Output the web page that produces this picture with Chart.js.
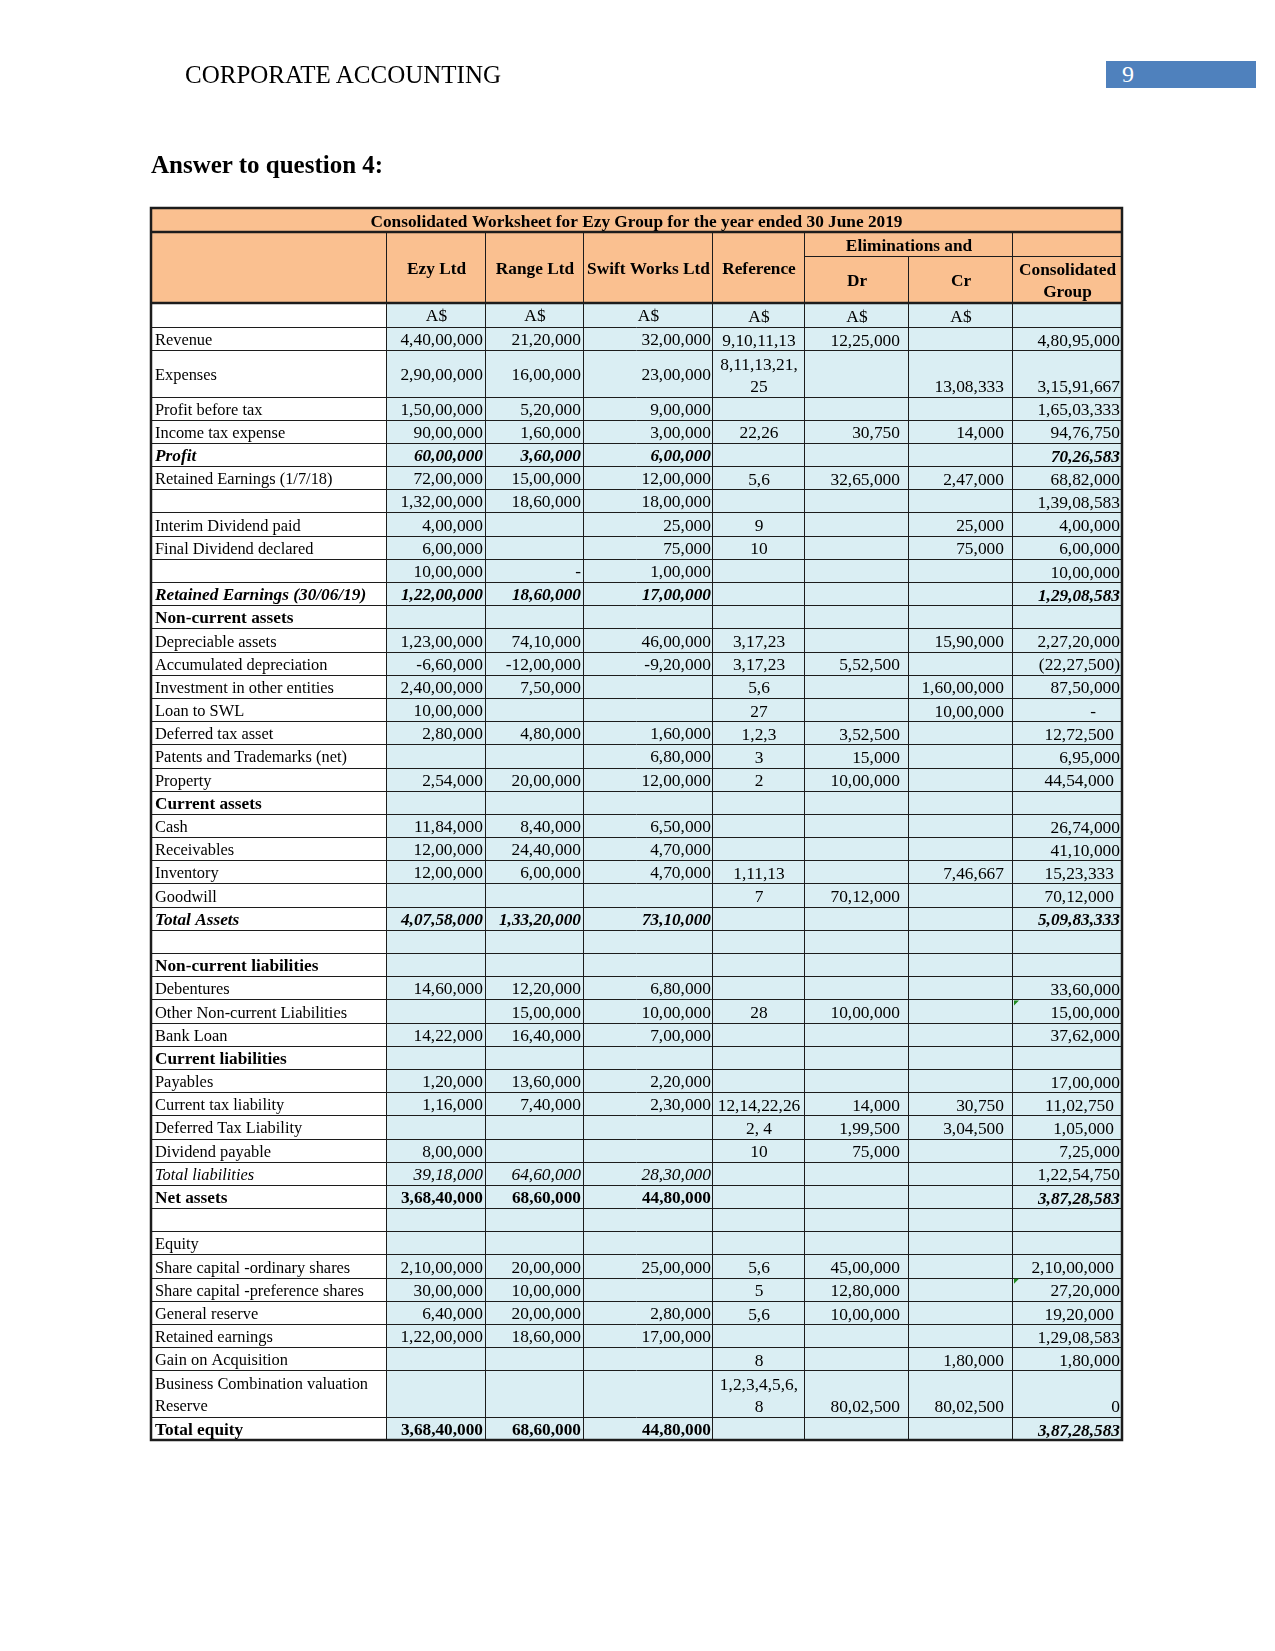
<!DOCTYPE html>
<html>
<head>
<meta charset="utf-8">
<title>Consolidated Worksheet for Ezy Group</title>
<script src="https://cdn.jsdelivr.net/npm/chart.js@4.4.1/dist/chart.umd.min.js"></script>
<style>
    body { margin: 0; background: #fff; }
    #page {
        position: relative;
        width: 1275px;
        height: 1651px;
        overflow: hidden;
        font-family: 'Liberation Serif', 'Times New Roman', serif;
        color: #000;
    }
    #sheet { position: absolute; left: 0; top: 0; }
    .running-head { position: absolute; left: 185px; top: 62px; font-size: 25px; line-height: 25px; white-space: nowrap; }
    .page-no {
        position: absolute; left: 1106px; top: 61px; width: 150px; height: 27px;
        background: #4f81bd; color: #fff; font-size: 24px; line-height: 27px;
        padding-left: 16px; box-sizing: border-box;
    }
    .question { position: absolute; left: 151px; top: 152px; font-size: 25px; line-height: 25px; font-weight: bold; white-space: nowrap; }
</style>
</head>
<body>
<div id="page">
    <canvas id="sheet" width="1275" height="1651"></canvas>
    <div class="running-head">CORPORATE ACCOUNTING</div>
    <div class="page-no">9</div>
    <div class="question">Answer to question 4:</div>
</div>
<script>
// --- worksheet data (row 0 is the currency row) ---
const tableTitle = 'Consolidated Worksheet for Ezy Group for the year ended 30 June 2019';
const groupHead = 'Eliminations and';
const columnHeads = ['', 'Ezy Ltd', 'Range Ltd', 'Swift Works Ltd', 'Reference', 'Dr', 'Cr', 'Consolidated\nGroup'];

const labels = [
    '', 'Revenue', 'Expenses', 'Profit before tax', 'Income tax expense', 'Profit',
    'Retained Earnings (1/7/18)', '', 'Interim Dividend paid', 'Final Dividend declared', '',
    'Retained Earnings (30/06/19)', 'Non-current assets', 'Depreciable assets', 'Accumulated depreciation',
    'Investment in other entities', 'Loan to SWL', 'Deferred tax asset', 'Patents and Trademarks (net)',
    'Property', 'Current assets', 'Cash', 'Receivables', 'Inventory', 'Goodwill', 'Total Assets', '',
    'Non-current liabilities', 'Debentures', 'Other Non-current Liabilities', 'Bank Loan',
    'Current liabilities', 'Payables', 'Current tax liability', 'Deferred Tax Liability', 'Dividend payable',
    'Total liabilities', 'Net assets', '', 'Equity', 'Share capital -ordinary shares',
    'Share capital -preference shares', 'General reserve', 'Retained earnings', 'Gain on Acquisition',
    'Business Combination valuation\nReserve', 'Total equity'
];
const ezyLtd = [
    'A$', '4,40,00,000', '2,90,00,000', '1,50,00,000', '90,00,000', '60,00,000',
    '72,00,000', '1,32,00,000', '4,00,000', '6,00,000', '10,00,000',
    '1,22,00,000', '', '1,23,00,000', '-6,60,000',
    '2,40,00,000', '10,00,000', '2,80,000', '',
    '2,54,000', '', '11,84,000', '12,00,000', '12,00,000', '', '4,07,58,000', '',
    '', '14,60,000', '', '14,22,000',
    '', '1,20,000', '1,16,000', '', '8,00,000',
    '39,18,000', '3,68,40,000', '', '', '2,10,00,000',
    '30,00,000', '6,40,000', '1,22,00,000', '',
    '', '3,68,40,000'
];
const rangeLtd = [
    'A$', '21,20,000', '16,00,000', '5,20,000', '1,60,000', '3,60,000',
    '15,00,000', '18,60,000', '', '', '-',
    '18,60,000', '', '74,10,000', '-12,00,000',
    '7,50,000', '', '4,80,000', '',
    '20,00,000', '', '8,40,000', '24,40,000', '6,00,000', '', '1,33,20,000', '',
    '', '12,20,000', '15,00,000', '16,40,000',
    '', '13,60,000', '7,40,000', '', '',
    '64,60,000', '68,60,000', '', '', '20,00,000',
    '10,00,000', '20,00,000', '18,60,000', '',
    '', '68,60,000'
];
const swiftWorks = [
    'A$', '32,00,000', '23,00,000', '9,00,000', '3,00,000', '6,00,000',
    '12,00,000', '18,00,000', '25,000', '75,000', '1,00,000',
    '17,00,000', '', '46,00,000', '-9,20,000',
    '', '', '1,60,000', '6,80,000',
    '12,00,000', '', '6,50,000', '4,70,000', '4,70,000', '', '73,10,000', '',
    '', '6,80,000', '10,00,000', '7,00,000',
    '', '2,20,000', '2,30,000', '', '',
    '28,30,000', '44,80,000', '', '', '25,00,000',
    '', '2,80,000', '17,00,000', '',
    '', '44,80,000'
];
const references = [
    'A$', '9,10,11,13', '8,11,13,21,\n25', '', '22,26', '',
    '5,6', '', '9', '10', '',
    '', '', '3,17,23', '3,17,23',
    '5,6', '27', '1,2,3', '3',
    '2', '', '', '', '1,11,13', '7', '', '',
    '', '', '28', '',
    '', '', '12,14,22,26', '2, 4', '10',
    '', '', '', '', '5,6',
    '5', '5,6', '', '8',
    '1,2,3,4,5,6,\n8', ''
];
const elimDr = [
    'A$', '12,25,000', '', '', '30,750', '',
    '32,65,000', '', '', '', '',
    '', '', '', '5,52,500',
    '', '', '3,52,500', '15,000',
    '10,00,000', '', '', '', '', '70,12,000', '', '',
    '', '', '10,00,000', '',
    '', '', '14,000', '1,99,500', '75,000',
    '', '', '', '', '45,00,000',
    '12,80,000', '10,00,000', '', '',
    '80,02,500', ''
];
const elimCr = [
    'A$', '', '13,08,333', '', '14,000', '',
    '2,47,000', '', '25,000', '75,000', '',
    '', '', '15,90,000', '',
    '1,60,00,000', '10,00,000', '', '',
    '', '', '', '', '7,46,667', '', '', '',
    '', '', '', '',
    '', '', '30,750', '3,04,500', '',
    '', '', '', '', '',
    '', '', '', '1,80,000',
    '80,02,500', ''
];
const consolidated = [
    '', '4,80,95,000', '3,15,91,667', '1,65,03,333', '94,76,750', '70,26,583',
    '68,82,000', '1,39,08,583', '4,00,000', '6,00,000', '10,00,000',
    '1,29,08,583', '', '2,27,20,000', '(22,27,500)',
    '87,50,000', '-', '12,72,500', '6,95,000',
    '44,54,000', '', '26,74,000', '41,10,000', '15,23,333', '70,12,000', '5,09,83,333', '',
    '', '33,60,000', '15,00,000', '37,62,000',
    '', '17,00,000', '11,02,750', '1,05,000', '7,25,000',
    '1,22,54,750', '3,87,28,583', '', '', '2,10,00,000',
    '27,20,000', '19,20,000', '1,29,08,583', '1,80,000',
    '0', '3,87,28,583'
];

// --- layout and styling ---
const columns = [labels, ezyLtd, rangeLtd, swiftWorks, references, elimDr, elimCr, consolidated];
const colWidths = [236, 99, 98, 129, 92, 104, 104, 109];
const colEdges = colWidths.reduce((acc, w) => (acc.push(acc[acc.length - 1] + w), acc), [0]);
const colAlign = ['left', 'right', 'right', 'right', 'center', 'right', 'right', 'right'];
const colVAlign = ['middle', 'middle', 'middle', 'middle', 'bottom', 'bottom', 'bottom', 'bottom'];
const colPad = [4, 3, 3, 2, 0, 9, 9, 2];

// vertical extent in row units (one unit = one plain row)
const TITLE_UNITS = 1.035;
const SUBHEAD_UNITS = 1.035;
const HEAD_UNITS = 3.06;
const BODY_TOP = TITLE_UNITS + HEAD_UNITS;
const rowHeights = labels.map((_, i) => (i === 0 ? 1.035 : (i === 2 || i === 45) ? 2 : 1));
const totalUnits = BODY_TOP + rowHeights.reduce((a, b) => a + b, 0);

const rowFont = { 5: 'bi', 11: 'bi', 12: 'b', 20: 'b', 25: 'bi', 27: 'b', 31: 'b', 36: 'i', 37: 'b', 46: 'b' };
const consFont = { 36: '', 37: 'bi', 46: 'bi' };
const sectionRows = [12, 20, 27, 31];
const consExtraPad = { 16: 24, 17: 6, 19: 6, 23: 6, 24: 6, 33: 6, 34: 6, 40: 6, 42: 6 };
const flaggedCells = [29, 41]; // green error markers in the consolidated column

const ORANGE = '#fac090';
const BLUE = '#daeef3';
const LINE = '#1c1c1c';
const FONT = '"Liberation Serif", "Times New Roman", serif';
const LINE_GAP = 22;
const SIZE_LABEL = 16.4;
const SIZE_VALUE = 17.4;
const SIZE_BOLD = 17.3;

function font(style, size) {
    return `${style.includes('i') ? 'italic ' : ''}${style.includes('b') ? 'bold ' : ''}${size}px ${FONT}`;
}

const worksheetPlugin = {
    id: 'worksheet',
    afterDraw(chart) {
        const { ctx, scales: { x, y } } = chart;
        const X = v => x.getPixelForValue(v);
        const Y = v => y.getPixelForValue(v);
        const right = colEdges[colEdges.length - 1];
        const headTop = TITLE_UNITS;
        const subSplit = TITLE_UNITS + SUBHEAD_UNITS;

        const rowTops = [];
        let acc = BODY_TOP;
        rowHeights.forEach(h => { rowTops.push(acc); acc += h; });

        ctx.save();

        // backgrounds
        ctx.fillStyle = ORANGE;
        ctx.fillRect(X(0), Y(0), X(right) - X(0), Y(BODY_TOP) - Y(0));
        ctx.fillStyle = BLUE;
        ctx.fillRect(X(colEdges[1]), Y(BODY_TOP), X(right) - X(colEdges[1]), Y(totalUnits) - Y(BODY_TOP));

        // thin grid
        ctx.strokeStyle = LINE;
        ctx.lineWidth = 1;
        const hLine = (v, x0, x1) => {
            const py = Math.round(Y(v)) + 0.5;
            ctx.beginPath(); ctx.moveTo(X(x0), py); ctx.lineTo(X(x1), py); ctx.stroke();
        };
        const vLine = (v, y0, y1) => {
            const px = Math.round(X(v)) - 0.5;
            ctx.beginPath(); ctx.moveTo(px, Y(y0)); ctx.lineTo(px, Y(y1)); ctx.stroke();
        };
        rowTops.forEach(t => hLine(t, 0, right));
        hLine(subSplit, colEdges[5], right);
        for (let c = 1; c < colEdges.length - 1; c++) {
            vLine(colEdges[c], c === 6 ? subSplit : headTop, totalUnits);
        }

        // heavy borders
        ctx.lineWidth = 2.5;
        [headTop, BODY_TOP].forEach(v => {
            ctx.beginPath(); ctx.moveTo(X(0), Y(v)); ctx.lineTo(X(right), Y(v)); ctx.stroke();
        });
        ctx.strokeRect(X(0), Y(0), X(right) - X(0), Y(totalUnits) - Y(0));

        // flagged cells
        ctx.fillStyle = '#1f8a1f';
        flaggedCells.forEach(r => {
            const px = X(colEdges[7]) + 1, py = Y(rowTops[r]) + 1;
            ctx.beginPath(); ctx.moveTo(px, py); ctx.lineTo(px + 5, py); ctx.lineTo(px, py + 5); ctx.closePath(); ctx.fill();
        });

        // headings
        ctx.fillStyle = '#000';
        ctx.textAlign = 'center';
        ctx.font = font('b', SIZE_BOLD);
        ctx.fillText(tableTitle, (X(0) + X(right)) / 2, (Y(0) + Y(headTop)) / 2 + 7);
        for (let c = 1; c <= 4; c++) {
            ctx.fillText(columnHeads[c], (X(colEdges[c]) + X(colEdges[c + 1])) / 2, (Y(headTop) + Y(BODY_TOP)) / 2 + 6.5);
        }
        ctx.fillText(groupHead, (X(colEdges[5]) + X(colEdges[7])) / 2, (Y(headTop) + Y(subSplit)) / 2 + 6.5);
        for (let c = 5; c <= 6; c++) {
            ctx.fillText(columnHeads[c], (X(colEdges[c]) + X(colEdges[c + 1])) / 2, (Y(subSplit) + Y(BODY_TOP)) / 2 + 6.5);
        }
        const consHead = columnHeads[7].split('\n');
        consHead.forEach((t, i) => {
            ctx.fillText(t, (X(colEdges[7]) + X(colEdges[8])) / 2, Y(BODY_TOP) - 6 - (consHead.length - 1 - i) * LINE_GAP);
        });

        // body cells
        columns.forEach((col, c) => {
            col.forEach((text, r) => {
                if (!text) return;
                let style = rowFont[r] || '';
                if (c === 7 && r in consFont) style = consFont[r];
                if (c !== 0 && sectionRows.includes(r)) style = '';
                const size = style.includes('b') ? SIZE_BOLD : (c === 0 ? SIZE_LABEL : SIZE_VALUE);
                ctx.font = font(style, size);

                const align = r === 0 ? 'center' : colAlign[c];
                ctx.textAlign = align;
                let px;
                if (align === 'left') px = X(colEdges[c]) + colPad[c];
                else if (align === 'center') px = (X(colEdges[c]) + X(colEdges[c + 1])) / 2;
                else px = X(colEdges[c + 1]) - colPad[c] - (c === 7 ? (consExtraPad[r] || 0) : 0);

                const top = Y(rowTops[r]);
                const bottom = Y(rowTops[r] + rowHeights[r]);
                const lines = text.split('\n');
                lines.forEach((t, i) => {
                    let py;
                    if (colVAlign[c] === 'middle') {
                        py = (top + bottom) / 2 + 6.5 + (i - (lines.length - 1) / 2) * LINE_GAP;
                    } else {
                        py = bottom - 4.5 - (lines.length - 1 - i) * LINE_GAP;
                    }
                    ctx.fillText(t, px, py);
                });
            });
        });

        ctx.restore();
    }
};

new Chart(document.getElementById('sheet'), {
    type: 'scatter',
    data: { datasets: [] },
    options: {
        responsive: false,
        animation: false,
        devicePixelRatio: 1,
        layout: { padding: { left: 151, top: 208, right: 153, bottom: 211 } },
        plugins: { legend: { display: false }, tooltip: { enabled: false } },
        scales: {
            x: { type: 'linear', display: false, min: 0, max: colEdges[colEdges.length - 1] },
            y: { type: 'linear', display: false, min: 0, max: totalUnits, reverse: true }
        }
    },
    plugins: [worksheetPlugin]
});
</script>
</body>
</html>
